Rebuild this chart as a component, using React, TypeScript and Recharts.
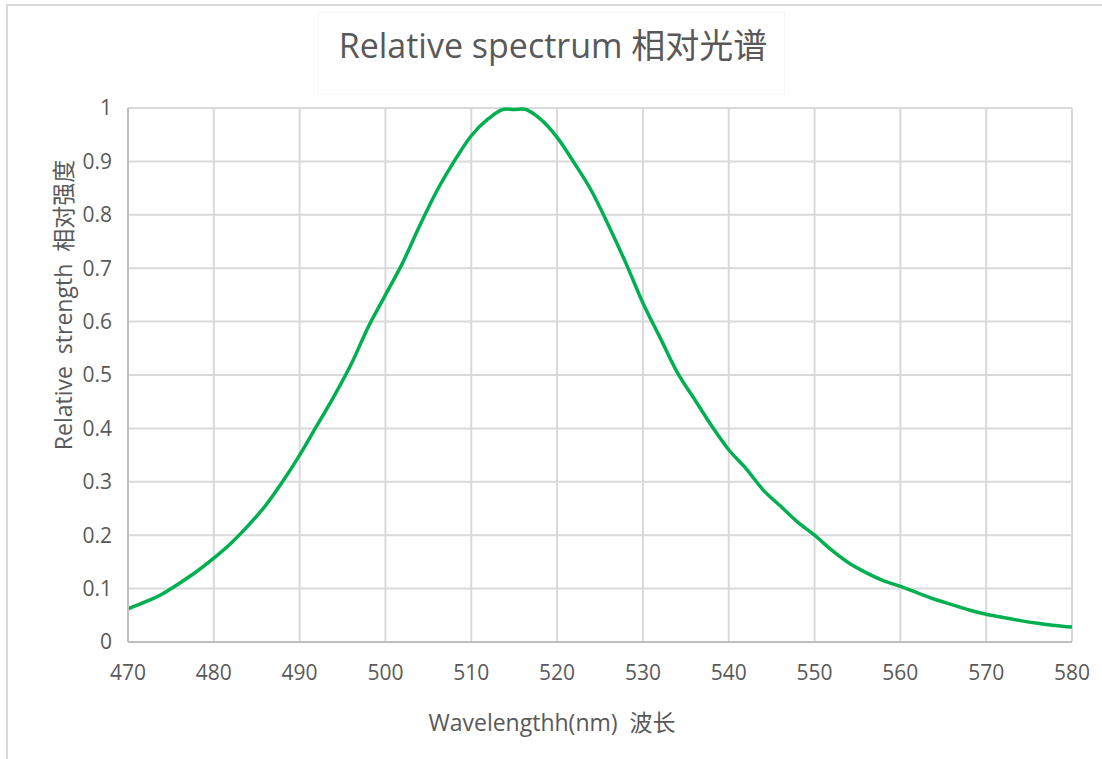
import React from 'react';
import { LineChart, Line, XAxis, YAxis, CartesianGrid } from 'recharts';

const wavelengths = [470, 472, 474, 476, 478, 480, 482, 484, 486, 488, 490, 492, 494, 496, 498, 500, 502, 504, 506, 508, 510, 512, 514, 515, 516, 518, 520, 522, 524, 526, 528, 530, 532, 534, 536, 538, 540, 542, 544, 546, 548, 550, 552, 554, 556, 558, 560, 562, 564, 566, 568, 570, 572, 574, 576, 578, 580];
const strength = [0.062, 0.075, 0.09, 0.11, 0.132, 0.157, 0.185, 0.218, 0.255, 0.3, 0.35, 0.405, 0.46, 0.52, 0.59, 0.65, 0.71, 0.78, 0.845, 0.9, 0.948, 0.98, 0.998, 0.997, 0.998, 0.98, 0.945, 0.897, 0.845, 0.78, 0.71, 0.635, 0.57, 0.505, 0.455, 0.405, 0.36, 0.325, 0.285, 0.255, 0.225, 0.2, 0.172, 0.148, 0.13, 0.115, 0.104, 0.092, 0.08, 0.07, 0.06, 0.052, 0.046, 0.04, 0.035, 0.031, 0.028];
const xTicks = [470, 480, 490, 500, 510, 520, 530, 540, 550, 560, 570, 580];
const yTicks = [0, 0.1, 0.2, 0.3, 0.4, 0.5, 0.6, 0.7, 0.8, 0.9, 1];

const titleText = 'Relative spectrum 相对光谱';
const xLabelText = 'Wavelengthh(nm)  波长';
const yLabelText = 'Relative  strength  相对强度';

const data = wavelengths.map((w, i) => ({ w, v: strength[i] }));

const FONT = "'Open Sans', 'Noto Sans CJK SC', sans-serif";
const TXT = '#595959';

export default function App() {
  return (
    <div style={{ position: 'absolute', left: 0, top: 0, width: 1102, height: 759, overflow: 'hidden', background: '#fff', fontFamily: FONT }}>
      <div style={{ position: 'absolute', left: 6, top: 4, width: 1120, height: 780, border: '2px solid #d9d9d9', boxSizing: 'border-box' }} />
      <div style={{ position: 'absolute', left: 318, top: 12, width: 467, height: 83, border: '1px solid #f6f6f6', boxSizing: 'border-box' }} />
      <div style={{ position: 'absolute', left: 0, top: 0 }}>
        <LineChart width={1102} height={759} data={data} margin={{ top: 108, right: 30, bottom: 0, left: 0 }}>
          <CartesianGrid stroke="#d9d9d9" strokeWidth={2} />
          <XAxis
            dataKey="w"
            type="number"
            domain={[470, 580]}
            ticks={xTicks}
            height={117}
            tickLine={false}
            tickSize={0}
            tickMargin={23}
            axisLine={{ stroke: '#bfbfbf', strokeWidth: 2 }}
            tick={{ fill: TXT, fontSize: 21, fontFamily: FONT }}
            interval={0}
          />
          <YAxis
            type="number"
            domain={[0, 1]}
            ticks={yTicks}
            width={128}
            tickLine={false}
            tickSize={0}
            tickMargin={16}
            axisLine={{ stroke: '#bfbfbf', strokeWidth: 2 }}
            tick={{ fill: TXT, fontSize: 21, fontFamily: FONT }}
            tickFormatter={(v: number) => String(Math.round(v * 10) / 10)}
            interval={0}
          />
          <Line type="monotone" dataKey="v" stroke="#00b050" strokeWidth={3.5} dot={false} isAnimationActive={false} />
        </LineChart>
      </div>
      <div style={{ position: 'absolute', left: 0, width: 1106, top: 20, textAlign: 'center', fontSize: 34, color: TXT, whiteSpace: 'pre', lineHeight: '50px' }}>{titleText}</div>
      <div style={{ position: 'absolute', left: 0, width: 1104, top: 702, textAlign: 'center', fontSize: 23, color: TXT, whiteSpace: 'pre', lineHeight: '40px' }}>{xLabelText}</div>
      <div style={{ position: 'absolute', left: 63 - 200, top: 305 - 20, width: 400, height: 40, textAlign: 'center', fontSize: 23, color: TXT, whiteSpace: 'pre', lineHeight: '40px', transform: 'rotate(-90deg)' }}>{yLabelText}</div>
    </div>
  );
}
